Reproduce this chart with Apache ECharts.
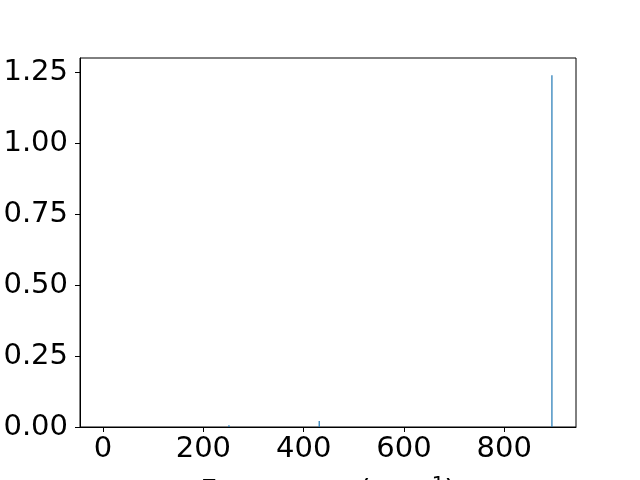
<!DOCTYPE html>
<html>
<head>
<meta charset="utf-8">
<script src="https://cdn.jsdelivr.net/npm/echarts@6/dist/echarts.min.js"></script>
<style>html,body{margin:0;padding:0;background:#fff;}#c{width:640px;height:480px;}</style>
</head>
<body>
<div id="c"></div>
<script>
const frequencies = [251, 431, 895];
const intensities = [0.006, 0.021, 1.239];
const xTicks = [0, 200, 400, 600, 800];
const yTicks = [0, 0.25, 0.5, 0.75, 1.0, 1.25];

const chart = echarts.init(document.getElementById('c'), null, {renderer: 'canvas'});
const font = 'DejaVu Sans';
const series = frequencies.map((f, i) => ({
  type: 'line',
  data: [[f, 0], [f, intensities[i]]],
  symbol: 'none',
  silent: true,
  animation: false,
  lineStyle: {color: '#1f77b4', width: 1.2}
}));
chart.setOption({
  animation: false,
  grid: {left: 80, right: 64, top: 58, bottom: 53, containLabel: false, outerBoundsMode: 'none',
    show: true, borderColor: '#000', borderWidth: 1, backgroundColor: 'transparent'},
  xAxis: {
    type: 'value', min: -46, max: 943,
    name: '{a|Frequency (cm}{s|−1}{a|)}',
    nameLocation: 'middle', nameGap: 48,
    nameTextStyle: {rich: {
      a: {fontFamily: font, fontSize: 29, color: '#000'},
      s: {fontFamily: font, fontSize: 20, color: '#000', padding: [0, 0, 14, 0]}
    }},
    axisLine: {show: true, onZero: false, lineStyle: {color: '#000', width: 1}},
    axisTick: {show: true, length: 5, customValues: xTicks, lineStyle: {color: '#000'}},
    axisLabel: {customValues: xTicks, fontFamily: font, fontSize: 29, color: '#000', margin: 8},
    splitLine: {show: false}
  },
  yAxis: {
    type: 'value', min: 0, max: 1.3,
    axisLine: {show: true, onZero: false, lineStyle: {color: '#000', width: 1}},
    axisTick: {show: true, length: 5, customValues: yTicks, lineStyle: {color: '#000'}},
    axisLabel: {customValues: yTicks, fontFamily: font, fontSize: 29, color: '#000', margin: 12,
      formatter: v => v.toFixed(2)},
    splitLine: {show: false}
  },
  series: series
});
</script>
</body>
</html>
